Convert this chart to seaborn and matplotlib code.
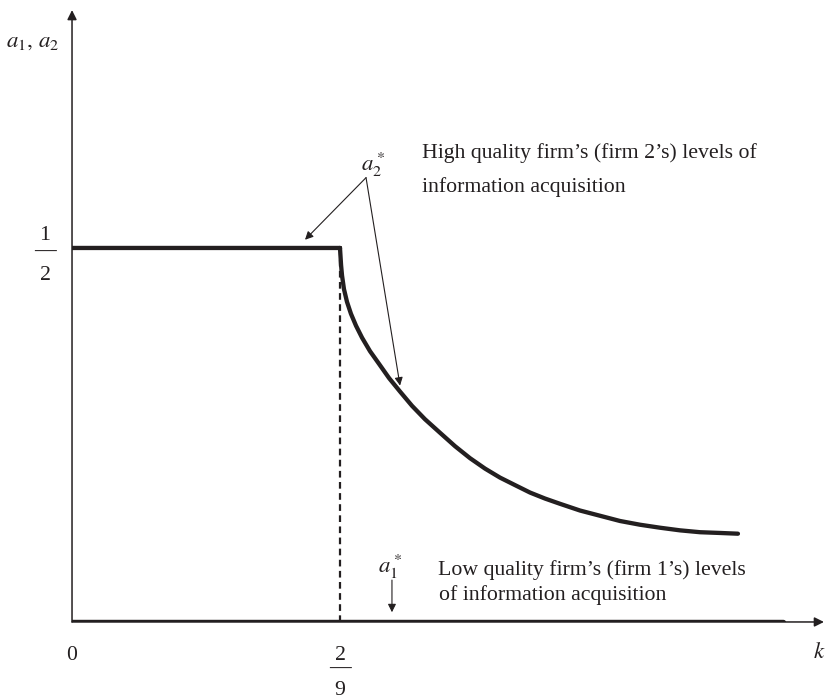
import matplotlib
matplotlib.use('Agg')
import matplotlib.pyplot as plt
import seaborn as sns
import pandas as pd

# values (k on x, a on y)
k_cut = 2 / 9
a_high = 0.5
k_flat = [0.0, k_cut]
a_flat = [a_high, a_high]
k_curve = [0.2222, 0.2231, 0.2239, 0.2255, 0.2280, 0.2313, 0.2355, 0.2405, 0.2471,
           0.2546, 0.2629, 0.2720, 0.2819, 0.2927, 0.3051, 0.3176, 0.3300, 0.3425,
           0.3549, 0.3673, 0.3798, 0.3922, 0.4046, 0.4212, 0.4378, 0.4544, 0.4710,
           0.4876, 0.5041, 0.5207, 0.5373, 0.5522]
a_curve = [0.500, 0.477, 0.463, 0.445, 0.428, 0.412, 0.396, 0.380, 0.362,
           0.345, 0.326, 0.308, 0.289, 0.271, 0.253, 0.235, 0.219, 0.205,
           0.193, 0.183, 0.173, 0.165, 0.158, 0.149, 0.142, 0.135, 0.130,
           0.126, 0.1225, 0.120, 0.119, 0.118]
k_low = [0.0, 0.5896]
a_low = [0.0, 0.0]

ink = '#231f20'
sns.set_theme(style='white')
plt.rcParams['font.family'] = ['Liberation Serif', 'DejaVu Serif']
plt.rcParams['mathtext.fontset'] = 'stix'

fig = plt.figure(figsize=(8.25, 6.99), dpi=100)
ax = fig.add_axes([0.0873, 0.1102, 0.9136, 0.8775])

high = pd.DataFrame({'k': k_flat + k_curve, 'a': a_flat + a_curve})
ax.vlines(k_cut, 0, a_high, colors=ink, linestyles=(0, (3, 2)), lw=1.6)
sns.lineplot(data=high, x='k', y='a', sort=False, color=ink, lw=3.1, ax=ax)
sns.lineplot(x=k_low, y=a_low, color=ink, lw=3.9, ax=ax)

ax.set_xlim(0, 0.625)
ax.set_ylim(0, 0.82)
for s in ax.spines.values():
    s.set_visible(False)
ax.set_xticks([])
ax.set_yticks([])
ax.set_xlabel('')
ax.set_ylabel('')

# axes with arrow heads
axis_kw = dict(arrowstyle='-|>', color=ink, lw=1.1, mutation_scale=14,
               shrinkA=0, shrinkB=0)
ax.annotate('', xy=(0.6235, 0), xytext=(0, 0), arrowprops=axis_kw, annotation_clip=False)
ax.annotate('', xy=(0, 0.818), xytext=(0, 0), arrowprops=axis_kw, annotation_clip=False)

# tick labels written as stacked fractions
tick_fs = 15.7
def frac(x, y, num, den, dx, dys):
    for s, dy, w in zip([num, '\u2014', den], dys, ['normal', 'bold', 'normal']):
        ax.annotate(s, xy=(x, y), xytext=(dx, dy), textcoords='offset pixels',
                    fontsize=tick_fs, fontweight=w, ha='center', va='baseline',
                    color=ink, annotation_clip=False)

frac(0, a_high, '1', '2', -27, [8, -9, -32])
frac(k_cut, 0, '2', '9', 0, [-38, -52, -73])
ax.annotate('0', xy=(0, 0), xytext=(0, -38), textcoords='offset pixels',
            fontsize=tick_fs, ha='center', va='baseline', color=ink, annotation_clip=False)

ax.text(-0.033, 0.776, r'$a_1,\,a_2$', fontsize=16.5, ha='center', va='center', color=ink)
ax.text(0.6195, -0.041, r'$k$', fontsize=16.5, ha='center', va='center', color=ink)

# a2* label with two arrows
thin_kw = dict(arrowstyle='-|>', color=ink, lw=0.8, mutation_scale=12,
               shrinkA=0, shrinkB=0)
ax.text(0.2496, 0.612, r'$a_2^*$', fontsize=16.5, ha='center', va='center', color=ink)
ax.annotate('', xy=(0.1932, 0.511), xytext=(0.2438, 0.594), arrowprops=thin_kw)
ax.annotate('', xy=(0.2720, 0.316), xytext=(0.2438, 0.594), arrowprops=thin_kw)
ax.text(0.2902, 0.620, "High quality firm\u2019s (firm 2\u2019s) levels of",
        fontsize=tick_fs, ha='left', va='baseline', color=ink)
ax.text(0.2902, 0.575, 'information acquisition',
        fontsize=tick_fs, ha='left', va='baseline', color=ink)

# a1* label with one arrow
ax.text(0.2637, 0.074, r'$a_1^*$', fontsize=16.5, ha='center', va='center', color=ink)
ax.annotate('', xy=(0.2653, 0.013), xytext=(0.2653, 0.056), arrowprops=thin_kw)
ax.text(0.3035, 0.063, "Low quality firm\u2019s (firm 1\u2019s) levels",
        fontsize=tick_fs, ha='left', va='baseline', color=ink)
ax.text(0.3043, 0.029, 'of information acquisition',
        fontsize=tick_fs, ha='left', va='baseline', color=ink)

fig.savefig('out.png', dpi=100, facecolor='white')
